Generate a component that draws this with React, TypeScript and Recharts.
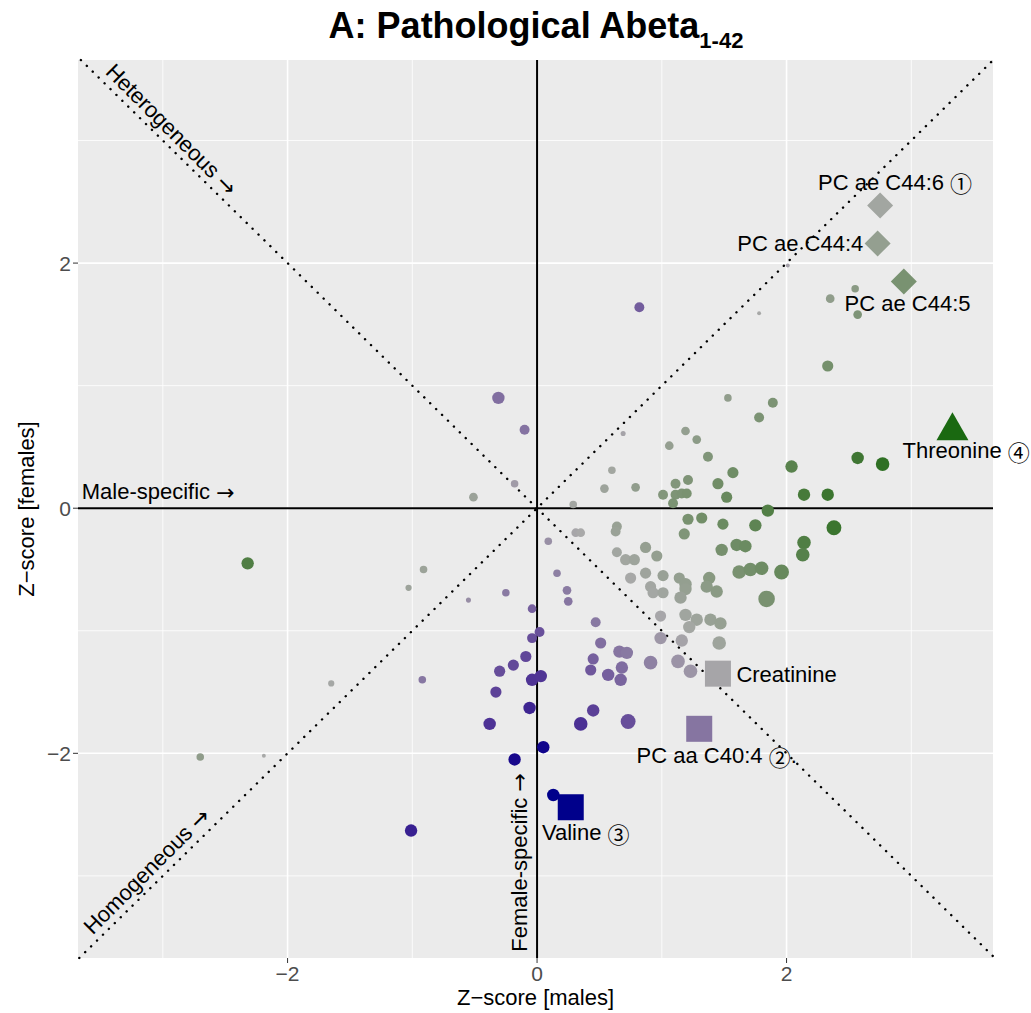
import React from "react"
import { CartesianGrid, ReferenceDot, ReferenceLine, Scatter, ScatterChart, XAxis, YAxis } from "recharts"

const FONT = "'Liberation Sans', Arial, Helvetica, sans-serif"

// z-scores of all metabolites (males on x, females on y) and their significance weight
const maleZ = [
    -0.31, -0.10, -0.18, -0.51, 0.69, 0.60, 0.54, 0.79, 0.29, 0.09,
    0.31, 0.35, 1.19, 1.28, 1.06, 1.11, 1.21, 1.01, 1.11, 1.16,
    1.20, 1.09, 1.21, 1.18, 0.64, 0.63, 0.64, 0.71, 0.78, 0.87,
    0.96, -0.91, 1.53, 1.89, 1.78, 1.37, 2.04, 1.57, 1.45, 1.52,
    2.14, 2.33, 1.85, 2.38, 1.32, 1.49, 1.75, 2.14, 2.13, 1.60,
    1.67, 1.48, 1.62, 1.71, 1.80, 1.96, 0.87, 1.01, 0.75, 1.14,
    1.19, 1.19, 1.38, 1.36, 1.44, 0.91, 0.93, 1.01, 1.15, 1.84,
    0.16, 0.24, 0.25, -1.03, -0.25, -0.55, -0.04, 0.02, -0.04, -0.09,
    -0.19, -0.30, -0.04, 0.03, -0.33, -0.06, -0.38, 0.05, -0.18, 0.13,
    -1.01, -0.92, 0.47, 0.51, 0.45, 0.43, 0.57, 0.66, 0.72, 0.68,
    0.67, 0.45, 0.35, 0.73, 0.91, 0.99, 1.13, 1.23, 1.16, 0.99,
    1.19, 1.28, 1.39, 1.47, 1.22, 1.46, 0.82, 2.01, 1.78, 2.35,
    2.55, 2.57, 2.33, 2.57, 2.77, -2.32, -2.70, -2.19, -1.65,
]
const femaleZ = [
    0.90, 0.64, 0.20, 0.09, 0.61, 0.31, 0.16, 0.17, 0.03, -0.27,
    -0.20, -0.20, 0.63, 0.56, 0.51, 0.20, 0.23, 0.11, 0.11, 0.12,
    0.12, 0.04, -0.09, -0.21, -0.15, -0.19, -0.36, -0.42, -0.42, -0.32,
    -0.39, -0.50, 0.90, 0.86, 0.74, 0.42, 0.34, 0.29, 0.20, 0.09,
    0.11, 0.11, -0.02, -0.16, -0.08, -0.13, -0.14, -0.28, -0.38, -0.30,
    -0.31, -0.34, -0.52, -0.50, -0.49, -0.52, -0.53, -0.55, -0.57, -0.57,
    -0.62, -0.66, -0.57, -0.64, -0.68, -0.64, -0.69, -0.69, -0.73, -0.74,
    -0.53, -0.67, -0.76, -0.65, -0.69, -0.75, -0.82, -1.01, -1.06, -1.21,
    -1.28, -1.33, -1.40, -1.37, -1.50, -1.63, -1.76, -1.95, -2.05, -2.34,
    -2.63, -1.40, -0.93, -1.10, -1.23, -1.32, -1.36, -1.17, -1.18, -1.30,
    -1.40, -1.65, -1.76, -1.74, -1.26, -1.06, -1.25, -1.33, -1.08, -0.88,
    -0.87, -0.91, -0.91, -0.94, -0.97, -1.10, 1.64, 1.98, 1.59, 1.71,
    1.79, 1.58, 1.16, 0.41, 0.36, -0.45, -2.03, -2.02, -1.43,
]
const signif = [
    0.54, 0.33, 0.17, 0.24, 0.05, 0.17, 0.24, 0.24, 0.17, 0.17,
    0.24, 0.24, 0.24, 0.24, 0.24, 0.33, 0.33, 0.33, 0.33, 0.33,
    0.33, 0.33, 0.43, 0.43, 0.33, 0.33, 0.33, 0.43, 0.43, 0.43,
    0.43, 0.17, 0.17, 0.33, 0.33, 0.33, 0.54, 0.43, 0.43, 0.43,
    0.54, 0.54, 0.54, 0.80, 0.43, 0.43, 0.54, 0.66, 0.66, 0.54,
    0.54, 0.54, 0.66, 0.66, 0.66, 0.80, 0.43, 0.43, 0.43, 0.43,
    0.54, 0.54, 0.54, 0.54, 0.54, 0.43, 0.43, 0.43, 0.54, 1.00,
    0.17, 0.24, 0.24, 0.10, 0.17, 0.05, 0.24, 0.33, 0.33, 0.43,
    0.43, 0.43, 0.54, 0.54, 0.43, 0.54, 0.54, 0.54, 0.54, 0.54,
    0.54, 0.17, 0.33, 0.43, 0.43, 0.43, 0.54, 0.54, 0.54, 0.54,
    0.54, 0.54, 0.66, 0.80, 0.66, 0.54, 0.66, 0.66, 0.54, 0.43,
    0.54, 0.54, 0.54, 0.54, 0.54, 0.66, 0.33, 0.01, 0.01, 0.24,
    0.17, 0.24, 0.43, 0.54, 0.66, 0.54, 0.17, 0.01, 0.10,
]

// highlighted metabolites
const hiNames = ["PC ae C44:6", "PC ae C44:4", "PC ae C44:5", "Threonine", "Creatinine", "PC aa C40:4", "Valine"]
const hiMaleZ = [2.75, 2.73, 2.94, 3.33, 1.45, 1.30, 0.27]
const hiFemaleZ = [2.47, 2.16, 1.85, 0.66, -1.35, -1.80, -2.44]
const hiShape = ["diamond", "diamond", "diamond", "triangle", "square", "square", "square"]
const hiLabel = ["PC ae C44:6 ①", "PC ae C44:4", "PC ae C44:5", "Threonine ④", "Creatinine", "PC aa C40:4 ②.", "Valine ③"]
const hiLabelX = [2.87, 2.11, 2.97, 3.44, 2.00, 1.44, 0.39]
const hiLabelY = [2.66, 2.16, 1.67, 0.47, -1.36, -2.02, -2.65]

// guide annotations
const noteText = ["Heterogeneous →", "Homogeneous →", "Male-specific →", "Female-specific →"]
const noteX = [-2.93, -3.13, -3.65, -0.144]
const noteY = [3.09, -2.96, 0.135, -2.89]
const noteAngle = [45, -45, 0, -90]
const noteAnchor = ["middle", "middle", "start", "middle"]

const majorTicks = [-2, 0, 2]
const minorTicks = [-3, -1, 1, 3]

// point area range (px^2) for significance 0..1
const AREA_MIN = 10
const AREA_MAX = 215

// colour scale: navy -> darkgray -> darkgreen, interpolated in Lab
const toLin = (c: number) => {
    c /= 255
    return c <= 0.04045 ? c / 12.92 : Math.pow((c + 0.055) / 1.055, 2.4)
}
const fromLin = (c: number) => {
    const v = c <= 0.0031308 ? 12.92 * c : 1.055 * Math.pow(Math.max(c, 0), 1 / 2.4) - 0.055
    return Math.round(Math.min(1, Math.max(0, v)) * 255)
}
const labF = (t: number) => (t > 0.008856 ? Math.cbrt(t) : 7.787 * t + 16 / 116)
const labInv = (t: number) => (t * t * t > 0.008856 ? t * t * t : (t - 16 / 116) / 7.787)

function hexToLab(hex: string) {
    const r = toLin(parseInt(hex.slice(1, 3), 16))
    const g = toLin(parseInt(hex.slice(3, 5), 16))
    const b = toLin(parseInt(hex.slice(5, 7), 16))
    const X = (0.4124 * r + 0.3576 * g + 0.1805 * b) / 0.95047
    const Y = 0.2126 * r + 0.7152 * g + 0.0722 * b
    const Z = (0.0193 * r + 0.1192 * g + 0.9505 * b) / 1.08883
    return [116 * labF(Y) - 16, 500 * (labF(X) - labF(Y)), 200 * (labF(Y) - labF(Z))]
}

function labToRgb(L: number, a: number, b: number) {
    const fy = (L + 16) / 116
    const X = labInv(fy + a / 500) * 0.95047
    const Y = labInv(fy)
    const Z = labInv(fy - b / 200) * 1.08883
    const r = 3.2406 * X - 1.5372 * Y - 0.4986 * Z
    const g = -0.9689 * X + 1.8758 * Y + 0.0415 * Z
    const bl = 0.0557 * X - 0.204 * Y + 1.057 * Z
    return `rgb(${fromLin(r)},${fromLin(g)},${fromLin(bl)})`
}

const LOW = hexToLab("#00008B")
const MID = hexToLab("#A9A9A9")
const HIGH = hexToLab("#006400")

function specColor(x: number, y: number) {
    const d = Math.abs(x) - Math.abs(y) - 0.15
    const t = d < 0 ? Math.min(1, -d / 2.1) : Math.min(1, d / 2.7)
    const end = d < 0 ? LOW : HIGH
    return labToRgb(
        MID[0] + (end[0] - MID[0]) * t,
        MID[1] + (end[1] - MID[1]) * t,
        MID[2] + (end[2] - MID[2]) * t
    )
}

const points = maleZ.map((x, i) => ({ x, y: femaleZ[i], sig: signif[i] }))
const highlighted = hiNames.map((name, i) => ({ name, x: hiMaleZ[i], y: hiFemaleZ[i], shape: hiShape[i] }))

const PointShape = (p: any) => {
    const area = AREA_MIN + (AREA_MAX - AREA_MIN) * p.payload.sig
    const r = Math.sqrt(area / Math.PI)
    return <circle cx={p.cx} cy={p.cy} r={r} fill={specColor(p.payload.x, p.payload.y)} />
}

const MarkerShape = (p: any) => {
    const { cx, cy, payload } = p
    const fill = specColor(payload.x, payload.y)
    if (payload.shape === "diamond") {
        const h = 13
        return <polygon points={`${cx},${cy - h} ${cx + h},${cy} ${cx},${cy + h} ${cx - h},${cy}`} fill={fill} />
    }
    if (payload.shape === "triangle") {
        return <polygon points={`${cx},${cy - 15} ${cx + 16},${cy + 13} ${cx - 16},${cy + 13}`} fill={fill} />
    }
    const s = 13
    return <rect x={cx - s} y={cy - s} width={2 * s} height={2 * s} fill={fill} />
}

// arrows and circled digits come from fonts that draw them at full size
const richText = (text: string) =>
    Array.from(text).reduce<React.ReactNode[]>((acc, ch, i) => {
        if (ch === "→") acc.push(<tspan key={i} fontFamily="'DejaVu Sans'">{ch}</tspan>)
        else if (ch >= "\u2460" && ch <= "\u2473") acc.push(<tspan key={i} fontFamily="'Noto Sans CJK JP'">{ch}</tspan>)
        else if (typeof acc[acc.length - 1] === "string") acc[acc.length - 1] = (acc[acc.length - 1] as string) + ch
        else acc.push(ch)
        return acc
    }, [])

const noteShape = (text: string, angle: number, anchor: string) => (p: any) => (
    <text
        x={p.cx}
        y={p.cy}
        transform={angle ? `rotate(${angle} ${p.cx} ${p.cy})` : undefined}
        textAnchor={anchor as any}
        dominantBaseline="central"
        fontSize={22}
        fontFamily={FONT}
        fill="#000"
    >
        {richText(text)}
    </text>
)

const fmt = (v: number) => (v < 0 ? `\u2212${Math.abs(v)}` : String(v))

export default function App() {
    return (
        <div style={{ position: "absolute", left: 0, top: 0, width: 1031, height: 1013, background: "#fff", fontFamily: FONT }}>
            <ScatterChart width={1031} height={1013} margin={{ top: 60, right: 38, left: 0, bottom: 0 }}>
                <CartesianGrid fill="#EBEBEB" horizontal={false} vertical={false} />
                <XAxis
                    dataKey="x"
                    type="number"
                    domain={[-3.68, 3.655]}
                    allowDataOverflow
                    ticks={majorTicks}
                    tickFormatter={fmt}
                    axisLine={false}
                    tickLine={{ stroke: "#333" }}
                    tickSize={5}
                    tickMargin={3}
                    tick={{ fontSize: 21, fill: "#4d4d4d", fontFamily: FONT }}
                    height={55}
                    label={{ value: "Z\u2212score [males]", position: "insideBottom", offset: 8, fontSize: 22, fill: "#000", fontFamily: FONT }}
                />
                <YAxis
                    dataKey="y"
                    type="number"
                    domain={[-3.67, 3.657]}
                    allowDataOverflow
                    ticks={majorTicks}
                    tickFormatter={fmt}
                    axisLine={false}
                    tickLine={{ stroke: "#333" }}
                    tickSize={5}
                    tickMargin={2}
                    tick={{ fontSize: 21, fill: "#4d4d4d", fontFamily: FONT }}
                    width={78}
                    label={{
                        value: "Z\u2212score [females]",
                        angle: -90,
                        position: "insideLeft",
                        offset: 26,
                        textAnchor: "middle",
                        fontSize: 22,
                        fill: "#000",
                        fontFamily: FONT,
                    }}
                />

                {minorTicks.map((v) => (
                    <ReferenceLine key={`mx${v}`} x={v} stroke="#fff" strokeWidth={0.8} />
                ))}
                {minorTicks.map((v) => (
                    <ReferenceLine key={`my${v}`} y={v} stroke="#fff" strokeWidth={0.8} />
                ))}
                {majorTicks.map((v) => (
                    <ReferenceLine key={`Mx${v}`} x={v} stroke="#fff" strokeWidth={1.6} />
                ))}
                {majorTicks.map((v) => (
                    <ReferenceLine key={`My${v}`} y={v} stroke="#fff" strokeWidth={1.6} />
                ))}

                <ReferenceLine
                    segment={[{ x: -3.67, y: -3.67 }, { x: 3.655, y: 3.655 }]}
                    stroke="#000"
                    strokeWidth={2.4}
                    strokeDasharray="0.1 8.2"
                    strokeLinecap="round"
                    ifOverflow="visible"
                />
                <ReferenceLine
                    segment={[{ x: -3.657, y: 3.657 }, { x: 3.655, y: -3.655 }]}
                    stroke="#000"
                    strokeWidth={2.4}
                    strokeDasharray="0.1 8.2"
                    strokeLinecap="round"
                    ifOverflow="visible"
                />
                <ReferenceLine x={0} stroke="#000" strokeWidth={2} />
                <ReferenceLine y={0} stroke="#000" strokeWidth={2} />

                <Scatter data={points} shape={PointShape} isAnimationActive={false} />
                <Scatter data={highlighted} shape={MarkerShape} isAnimationActive={false} />

                {hiLabel.map((t, i) => (
                    <ReferenceDot key={t} x={hiLabelX[i]} y={hiLabelY[i]} r={0} shape={noteShape(t, 0, "middle")} />
                ))}
                {noteText.map((t, i) => (
                    <ReferenceDot key={t} x={noteX[i]} y={noteY[i]} r={0} shape={noteShape(t, noteAngle[i], noteAnchor[i])} />
                ))}
            </ScatterChart>
            <svg width={1031} height={60} style={{ position: "absolute", left: 0, top: 0, pointerEvents: "none" }}>
                <text x={536} y={38} textAnchor="middle" fontFamily={FONT} fontWeight="bold" fontSize={36} fill="#000">
                    <tspan>A: Pathological Abeta</tspan>
                    <tspan fontSize={22} dy={10}>1-42</tspan>
                </text>
            </svg>
        </div>
    )
}
